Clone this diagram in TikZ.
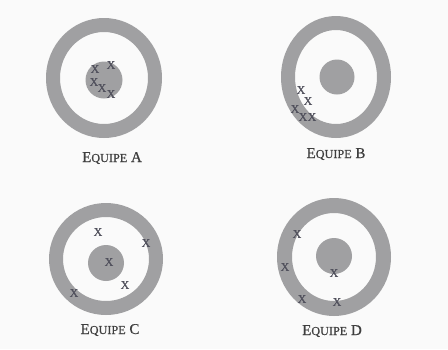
\documentclass[tikz,border=0pt]{standalone}
\usepackage{fontspec}
\usepackage{xcolor}
\usepackage{tikz}

\newfontfamily\teamfont[FakeBold=0.6]{Liberation Serif}
\newcommand{\teamname}[2]{#1{\fontsize{12.2}{14}\selectfont #2}}

\definecolor{ringgray}{RGB}{160,160,162}
\definecolor{markgray}{RGB}{80,80,92}
\definecolor{textgray}{RGB}{62,62,62}
\definecolor{paper}{RGB}{250,250,250}

\begin{document}
\begin{tikzpicture}[
  x=1pt, y=-1pt,
  ring/.style={fill=ringgray, even odd rule},
  bull/.style={fill=ringgray},
  hit/.style={text=markgray, inner sep=0pt, font=\teamfont\fontsize{12}{12}\selectfont},
  team/.style={text=textgray, anchor=base, inner sep=0pt, font=\teamfont\fontsize{15}{17}\selectfont}
]
\fill[paper] (0,0) rectangle (448,349);
\useasboundingbox (0,0) rectangle (448,349);

% targets: outer ring and bullseye
\fill[ring] (104,78) ellipse [x radius=58, y radius=60] (104,78) ellipse [x radius=44, y radius=46];
\fill[bull] (104,80) circle [radius=18.5];
\fill[ring] (336,77) ellipse [x radius=55, y radius=61] (336,77) ellipse [x radius=41, y radius=47];
\fill[bull] (337,77) circle [radius=17.5];
\fill[ring] (106,259) ellipse [x radius=57, y radius=56] (106,259) ellipse [x radius=43, y radius=42];
\fill[bull] (106,263) circle [radius=18];
\fill[ring] (334,257) ellipse [x radius=57, y radius=59] (334,257) ellipse [x radius=42, y radius=44];
\fill[bull] (334,256) circle [radius=18];

% hits
\foreach \p [count=\i] in {(95,69),(111,65),(94,82),(102,88),(111,94)}
  \node[hit] (a\i) at \p {X};
\foreach \p [count=\i] in {(301,90),(308,101),(295,109),(303,117),(312,117)}
  \node[hit] (b\i) at \p {X};
\foreach \p [count=\i] in {(98,232),(146,243),(109,262),(125,285),(74,293)}
  \node[hit] (c\i) at \p {X};
\foreach \p [count=\i] in {(297,234),(285,267),(334,273),(302,299),(337,302)}
  \node[hit] (d\i) at \p {X};

% labels
\node[team] (teamA) at (112,162) {\teamname{E}{QUIPE} A};
\node[team] (teamB) at (336,158) {\teamname{E}{QUIPE} B};
\node[team] (teamC) at (110,334) {\teamname{E}{QUIPE} C};
\node[team] (teamD) at (332,335) {\teamname{E}{QUIPE} D};
\end{tikzpicture}
\end{document}
